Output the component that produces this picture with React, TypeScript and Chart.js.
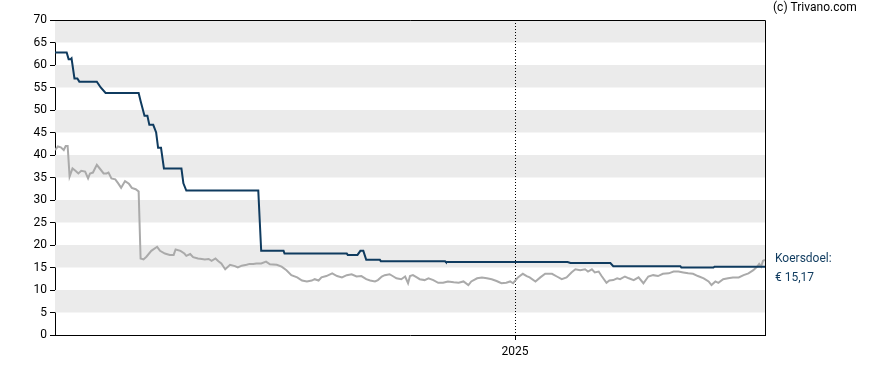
import React, { useEffect, useRef } from "react";
import { Chart, registerables } from "chart.js";

Chart.register(...registerables);

// x values are days since the start of the chart window (~2 years shown)
const X_MIN = 0;
const X_MAX = 730;
const YEAR_TICK_DAYS = [473];
const YEAR_TICK_LABELS = ["2025"];

const Y_MIN = 0;
const Y_MAX = 70;
const Y_STEP = 5;

const TARGET_LABEL = ["Koersdoel:", "€ 15,17"];
const TARGET_LAST = 15.17;
const COPYRIGHT = "(c) Trivano.com";

// Analyst price target (koersdoel)
const targetDays = [0, 12, 14, 16, 17, 20, 23, 25, 43, 47, 52, 86, 88, 92, 95, 97, 101, 104, 106, 109, 112, 130, 132, 135, 209, 212, 235, 236, 300, 301, 311, 314, 317, 320, 334, 335, 401, 402, 527, 530, 571, 574, 643, 644, 677, 678, 730];
const targetValues = [62.8, 62.8, 61.3, 61.3, 61.5, 57.0, 57.0, 56.3, 56.3, 55.0, 53.8, 53.8, 52.0, 48.7, 48.7, 46.7, 46.7, 45.0, 41.6, 41.6, 37.0, 37.0, 33.7, 32.1, 32.1, 18.7, 18.7, 18.1, 18.1, 17.8, 17.8, 18.7, 18.7, 16.7, 16.7, 16.4, 16.4, 16.2, 16.2, 16.0, 16.0, 15.3, 15.3, 15.0, 15.0, TARGET_LAST, TARGET_LAST];

// Share price
const priceDays = [0, 3, 6, 9, 11, 13, 15, 18, 21, 24, 27, 31, 34, 36, 39, 43, 46, 50, 53, 55, 58, 62, 65, 68, 72, 76, 79, 83, 86, 88, 91, 94, 99, 105, 108, 113, 118, 122, 124, 129, 133, 135, 139, 142, 147, 151, 154, 158, 161, 165, 168, 171, 175, 180, 185, 188, 192, 197, 200, 204, 207, 212, 217, 221, 228, 233, 238, 243, 249, 254, 259, 264, 267, 271, 274, 279, 285, 290, 295, 300, 305, 310, 315, 320, 324, 329, 332, 336, 339, 344, 348, 351, 356, 360, 363, 365, 368, 372, 375, 380, 384, 389, 394, 399, 404, 410, 415, 420, 425, 428, 434, 439, 444, 449, 454, 459, 464, 468, 471, 476, 481, 485, 488, 494, 499, 504, 511, 516, 521, 526, 531, 535, 540, 545, 548, 552, 555, 559, 562, 567, 570, 574, 578, 581, 586, 590, 595, 600, 605, 610, 615, 620, 625, 631, 636, 641, 646, 651, 656, 661, 667, 672, 675, 679, 682, 687, 692, 697, 703, 708, 713, 718, 722, 724, 726, 728, 730];
const priceValues = [41.1, 41.9, 41.7, 41.1, 42.0, 42.0, 35.2, 37.0, 36.5, 35.9, 36.5, 36.3, 34.8, 35.9, 36.1, 37.8, 37.0, 35.9, 35.9, 36.1, 34.8, 34.6, 33.7, 32.7, 34.2, 33.6, 32.7, 32.4, 31.9, 17.0, 16.8, 17.4, 18.7, 19.6, 18.7, 18.1, 17.8, 17.8, 19.0, 18.7, 18.1, 17.6, 18.0, 17.3, 17.0, 16.9, 16.8, 16.9, 16.5, 17.0, 16.4, 15.9, 14.6, 15.6, 15.3, 15.0, 15.4, 15.6, 15.8, 15.8, 15.9, 15.9, 16.3, 15.7, 15.6, 15.2, 14.4, 13.3, 12.8, 12.1, 11.9, 12.1, 12.4, 12.1, 12.8, 13.1, 13.7, 13.1, 12.8, 13.3, 13.5, 13.0, 13.1, 12.4, 12.1, 11.9, 12.2, 13.0, 13.3, 13.5, 13.0, 12.6, 12.4, 13.0, 11.5, 13.1, 13.3, 12.8, 12.4, 12.2, 12.6, 12.2, 11.6, 11.6, 11.9, 11.7, 11.6, 11.9, 11.1, 11.9, 12.6, 12.8, 12.6, 12.4, 12.0, 11.5, 11.6, 11.9, 11.5, 12.8, 13.6, 13.1, 12.8, 11.9, 12.8, 13.6, 13.6, 13.0, 12.4, 12.8, 13.9, 14.6, 14.4, 14.6, 14.1, 14.6, 13.9, 14.1, 13.1, 11.6, 12.1, 12.2, 12.6, 12.4, 13.0, 12.6, 12.2, 12.8, 11.5, 13.0, 13.3, 13.1, 13.6, 13.7, 14.1, 14.1, 13.9, 13.7, 13.6, 13.1, 12.6, 11.9, 11.1, 11.9, 11.6, 12.4, 12.6, 12.8, 12.8, 13.3, 13.7, 14.4, 15.2, 15.8, 15.2, 16.5, 16.7];

const TARGET_COLOR = "#0f3b5f";
const PRICE_COLOR = "#aaaaaa";
const BAND_COLOR = "#ebebeb";
const FONT = "Roboto, 'Liberation Sans', Arial, sans-serif";

const decorPlugin = {
  id: "decor",
  beforeDatasetsDraw(chart: any) {
    const { ctx, chartArea, scales } = chart;
    const y = scales.y;
    const x = scales.x;
    ctx.save();
    ctx.fillStyle = BAND_COLOR;
    for (let v = Y_MIN + Y_STEP; v < Y_MAX; v += 2 * Y_STEP) {
      const top = y.getPixelForValue(v + Y_STEP);
      const bot = y.getPixelForValue(v);
      ctx.fillRect(chartArea.left, top, chartArea.right - chartArea.left, bot - top);
    }
    // dotted year line
    ctx.strokeStyle = "#000";
    ctx.lineWidth = 1;
    ctx.setLineDash([1, 2]);
    YEAR_TICK_DAYS.forEach((d) => {
      const px = Math.round(x.getPixelForValue(d)) + 0.5;
      ctx.beginPath();
      ctx.moveTo(px, chartArea.top);
      ctx.lineTo(px, chartArea.bottom);
      ctx.stroke();
    });
    ctx.restore();
  },
  afterDatasetsDraw(chart: any) {
    const { ctx, chartArea, scales } = chart;
    ctx.save();
    ctx.strokeStyle = "#000";
    ctx.lineWidth = 1;
    ctx.beginPath();
    ctx.moveTo(chartArea.left, Math.round(chartArea.top) + 0.5);
    ctx.lineTo(Math.round(chartArea.right) + 0.5, Math.round(chartArea.top) + 0.5);
    ctx.lineTo(Math.round(chartArea.right) + 0.5, chartArea.bottom);
    ctx.stroke();

    ctx.font = `12px ${FONT}`;
    ctx.textBaseline = "middle";
    ctx.textAlign = "left";
    ctx.fillStyle = "#000";
    ctx.fillText(COPYRIGHT, chartArea.right + 8, 8);

    const ty = scales.y.getPixelForValue(TARGET_LAST);
    ctx.fillStyle = TARGET_COLOR;
    ctx.fillText(TARGET_LABEL[0], chartArea.right + 10, ty - 8);
    ctx.fillText(TARGET_LABEL[1], chartArea.right + 10, ty + 11);
    ctx.restore();
  },
};

export default function App() {
  const ref = useRef<HTMLCanvasElement | null>(null);
  useEffect(() => {
    if (!ref.current) return;
    const chart = new Chart(ref.current, {
      type: "line",
      data: {
        datasets: [
          {
            label: "Koersdoel",
            data: targetDays.map((d, i) => ({ x: d, y: targetValues[i] })),
            borderColor: TARGET_COLOR,
            borderWidth: 2,
            pointRadius: 0,
            tension: 0,
            fill: false,
          },
          {
            label: "Koers",
            data: priceDays.map((d, i) => ({ x: d, y: priceValues[i] })),
            borderColor: PRICE_COLOR,
            borderWidth: 2,
            pointRadius: 0,
            tension: 0,
            fill: false,
          },
        ],
      },
      options: {
        animation: false,
        responsive: false,
        maintainAspectRatio: false,
        layout: { padding: { left: 0, right: 123, top: 20, bottom: 0 } },
        plugins: { legend: { display: false }, tooltip: { enabled: false } },
        scales: {
          x: {
            type: "linear",
            min: X_MIN,
            max: X_MAX,
            afterBuildTicks: (axis: any) => {
              axis.ticks = YEAR_TICK_DAYS.map((v) => ({ value: v }));
            },
            afterFit: (axis: any) => {
              axis.height = 35;
            },
            ticks: {
              autoSkip: false,
              maxRotation: 0,
              padding: 5,
              color: "#000",
              font: { family: FONT, size: 12 },
              callback: (v: any) => {
                const i = YEAR_TICK_DAYS.indexOf(Number(v));
                return i >= 0 ? YEAR_TICK_LABELS[i] : "";
              },
            },
            grid: { drawOnChartArea: false, drawTicks: true, tickLength: 5, color: "#000" },
            border: { display: true, color: "#000", width: 1 },
          },
          y: {
            type: "linear",
            min: Y_MIN,
            max: Y_MAX,
            afterFit: (axis: any) => {
              axis.width = 55;
            },
            ticks: {
              stepSize: Y_STEP,
              padding: 3,
              color: "#000",
              font: { family: FONT, size: 12 },
            },
            grid: { drawOnChartArea: false, drawTicks: true, tickLength: 5, color: "#000" },
            border: { display: true, color: "#000", width: 1 },
          },
        },
      },
      plugins: [decorPlugin],
    } as any);
    return () => chart.destroy();
  }, []);
  return (
    <div style={{ position: "absolute", left: 0, top: 0, width: 888, height: 370, background: "#fff" }}>
      <canvas ref={ref} width={888} height={370} style={{ width: 888, height: 370 }} />
    </div>
  );
}
